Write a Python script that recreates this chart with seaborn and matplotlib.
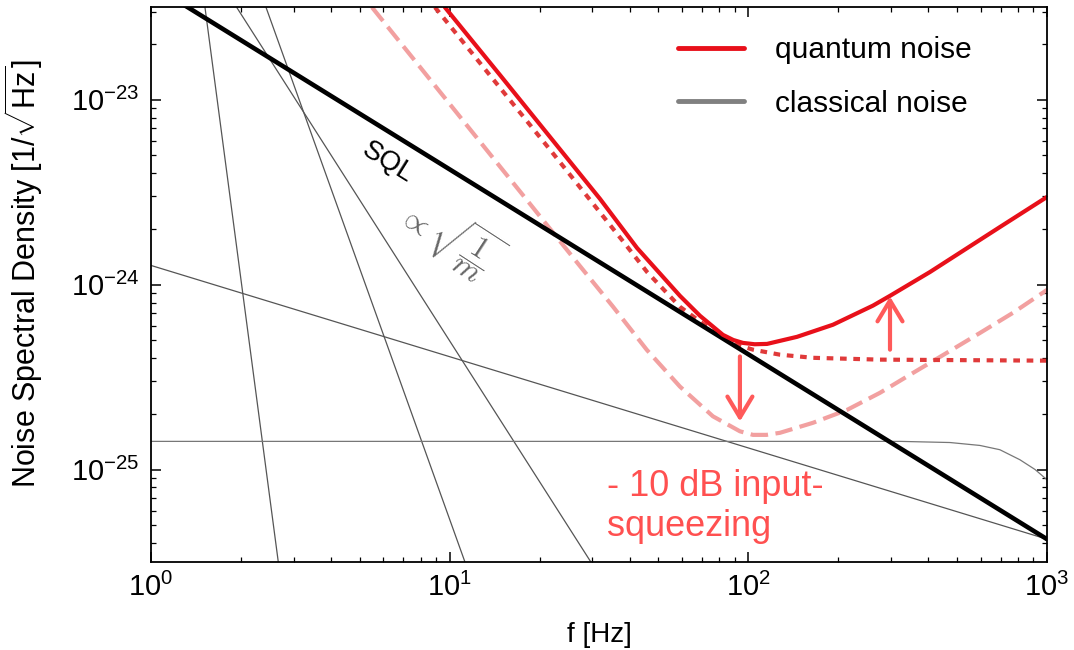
import matplotlib
matplotlib.use("Agg")
import matplotlib.pyplot as plt
import seaborn as sns
import pandas as pd
from matplotlib.lines import Line2D
from matplotlib.ticker import LogLocator, NullFormatter, FixedLocator

# ---------------- data ----------------
sql_f = [1.0, 1000.0]
sql_h = [4.2e-23, 4.2e-26]

seis1_f = [1.516, 2.668]
seis1_h = [3.16e-23, 3.16e-26]
seis2_f = [2.427, 11.25]
seis2_h = [3.16e-23, 3.16e-26]
susp_f = [1.936, 29.7]
susp_h = [3.16e-23, 3.16e-26]
coat_f = [1.0, 1000.0]
coat_h = [1.27e-24, 4.2e-26]
flat_f = [1.0, 322, 473, 596, 695, 811, 912, 1000]
flat_h = [1.42e-25, 1.42e-25, 1.40e-25, 1.35e-25, 1.28e-25, 1.13e-25, 1.0e-25, 8.8e-26]

qn_f = [9.64, 14.74, 21.67, 31.86, 42.37, 59.0, 68.9, 82.2, 89.0, 95.9, 105.0,
        115.5, 145.5, 192.0, 261.3, 298.0, 405.5, 695.7, 1000.0]
qn_h = [3.16e-23, 1.36e-23, 6.29e-24, 2.91e-24, 1.58e-24, 8.70e-25, 6.78e-25,
        5.35e-25, 5.02e-25, 4.84e-25, 4.76e-25, 4.78e-25, 5.22e-25, 6.07e-25,
        7.7e-25, 8.7e-25, 1.17e-24, 2.05e-24, 2.98e-24]

qd_f = [8.93, 21.67, 38.0, 45.8, 59.0, 76.1, 91.6, 103.6, 127.6, 164.6, 275.8, 1000.0]
qd_h = [3.16e-23, 5.37e-24, 1.72e-24, 1.17e-24, 7.59e-25, 5.62e-25, 4.73e-25,
        4.45e-25, 4.18e-25, 4.02e-25, 3.93e-25, 3.88e-25]

sq_f = [5.495, 27.3, 35.2, 45.7, 59.0, 76.1, 93.7, 103.6, 115.0, 127.6, 164.6,
        213.8, 275.8, 355.8, 462.0, 596.3, 769.0, 1000.0]
sq_h = [3.16e-23, 1.26e-24, 7.61e-25, 4.44e-25, 2.81e-25, 1.94e-25, 1.61e-25,
        1.54e-25, 1.54e-25, 1.58e-25, 1.79e-25, 2.10e-25, 2.60e-25, 3.33e-25,
        4.28e-25, 5.48e-25, 7.04e-25, 9.37e-25]

arrow_f = [93.7, 298.0]
arrow_from = [4.09e-25, 4.45e-25]
arrow_to = [1.82e-25, 8.63e-25]

x_ticks = [1, 10, 100, 1000]
y_ticks = [1e-25, 1e-24, 1e-23]
legend_labels = ["quantum noise", "classical noise"]

# ---------------- style ----------------
sns.set_theme(style="ticks")
plt.rcParams["font.family"] = ["Liberation Sans", "DejaVu Sans"]
plt.rcParams["mathtext.fontset"] = "custom"
plt.rcParams["mathtext.rm"] = "Liberation Sans"
plt.rcParams["mathtext.it"] = "Liberation Sans:italic"
plt.rcParams["mathtext.bf"] = "Liberation Sans:bold"
plt.rcParams["axes.unicode_minus"] = True
plt.rcParams["text.color"] = "black"
plt.rcParams["axes.labelcolor"] = "black"

RED = "#e8101a"
RED_DOT = "#e03a3a"
PINK = "#f2a0a0"
ARROW = "#ff5a5a"
GRAY = "#555555"

fig = plt.figure(figsize=(10.74, 6.5), dpi=100)
ax = fig.add_axes([0.1406, 0.1354, 0.8343, 0.8534])
ax.set_xscale("log")
ax.set_yscale("log")

thin = dict(color=GRAY, lw=0.9, estimator=None, sort=False, ax=ax)
for fx, hy in [(seis1_f, seis1_h), (seis2_f, seis2_h), (susp_f, susp_h),
               (coat_f, coat_h)]:
    sns.lineplot(x=fx, y=hy, **thin)
sns.lineplot(x=flat_f, y=flat_h, color="#777777", lw=0.9, estimator=None, sort=False, ax=ax)

sns.lineplot(x=sq_f, y=sq_h, color=PINK, lw=3, estimator=None, sort=False, ax=ax,
             linestyle=(0, (4.2, 1.8)))
sns.lineplot(x=qd_f, y=qd_h, color=RED_DOT, lw=3, estimator=None, sort=False, ax=ax,
             linestyle=(0, (1.6, 1.6)))
sns.lineplot(x=sql_f, y=sql_h, color="black", lw=3.3, estimator=None, sort=False, ax=ax)
sns.lineplot(x=qn_f, y=qn_h, color=RED, lw=3, estimator=None, sort=False, ax=ax)

for fx, h0, h1 in zip(arrow_f, arrow_from, arrow_to):
    ax.annotate("", xy=(fx, h1), xytext=(fx, h0),
                arrowprops=dict(arrowstyle="->,head_length=0.75,head_width=0.45",
                                color=ARROW, lw=3, shrinkA=0, shrinkB=0,
                                mutation_scale=20))

ax.set_xlim(1, 1000)
ax.set_ylim(10 ** -25.5, 10 ** -22.5)

ax.xaxis.set_major_locator(FixedLocator(x_ticks))
ax.xaxis.set_minor_locator(LogLocator(base=10, subs=range(2, 10), numticks=20))
ax.yaxis.set_major_locator(FixedLocator(y_ticks))
ax.yaxis.set_minor_locator(LogLocator(base=10, subs=range(2, 10), numticks=20))
ax.xaxis.set_minor_formatter(NullFormatter())
ax.yaxis.set_minor_formatter(NullFormatter())

ax.tick_params(which="both", direction="in", top=True, right=True, colors="black",
               labelsize=21)
ax.tick_params(which="major", length=7, width=1.1, pad=8)
ax.tick_params(which="minor", length=3.5, width=0.9)
for s in ax.spines.values():
    s.set_color("black")
    s.set_linewidth(1.3)

ax.set_xlabel("f [Hz]", fontsize=20)
ax.set_ylabel(r"Noise Spectral Density $[1/\sqrt{\mathrm{Hz}}]$", fontsize=22)
ax.xaxis.set_label_coords(0.5, -0.108)
ax.yaxis.set_label_coords(-0.118, 0.52)

ax.text(0.264, 0.72, "SQL", transform=ax.transAxes, rotation=-32, fontsize=20,
        color="black", ha="center", va="center")
ax.text(0.333, 0.585, r"$\propto\sqrt{\dfrac{1}{m}}$", transform=ax.transAxes,
        rotation=-33, fontsize=23, color="#666666", ha="center", va="center",
        math_fontfamily="cm")
ax.text(0.509, 0.168, "- 10 dB input-\nsqueezing", transform=ax.transAxes,
        fontsize=26, color="#ff5050", ha="left", va="top", linespacing=1.18)

handles = [Line2D([], [], color=RED, lw=3.5), Line2D([], [], color="#808080", lw=3.5)]
leg = ax.legend(handles, legend_labels, loc="upper left", bbox_to_anchor=(0.588, 0.948),
                frameon=False, fontsize=21.5, handlelength=2.2, handletextpad=1.05,
                borderpad=0, borderaxespad=0, labelspacing=0.85)
for t in leg.get_texts():
    t.set_color("black")

fig.savefig("out.png", dpi=100)
